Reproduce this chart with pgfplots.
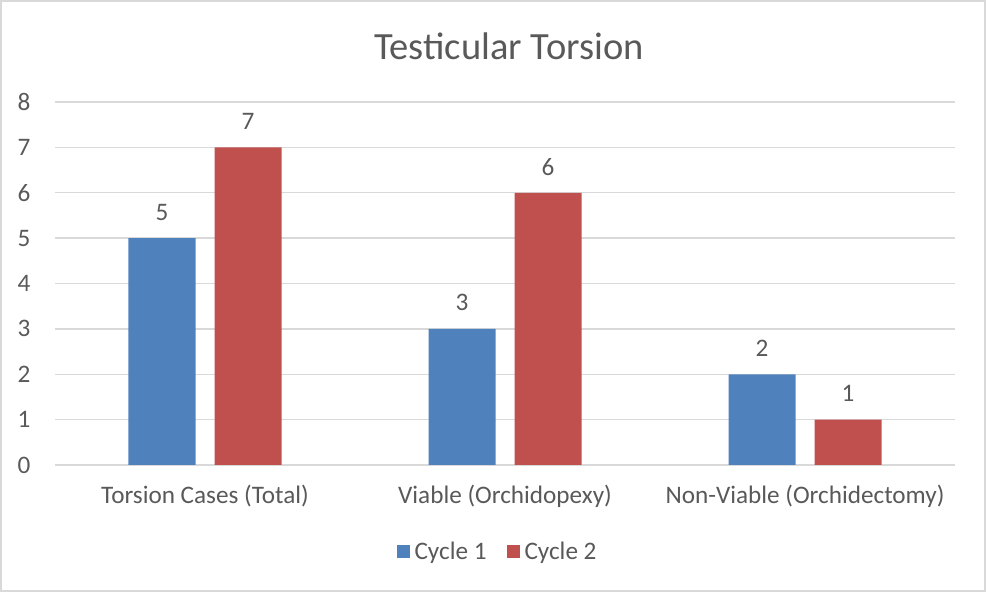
\documentclass[border=0pt]{standalone}
\usepackage{pgfplots}
\pgfplotsset{compat=1.18}
\usepackage{fontspec}
\setmainfont{Carlito}
\definecolor{c1}{HTML}{4F81BD}
\definecolor{c2}{HTML}{C0504D}
\definecolor{txt}{HTML}{595959}
\definecolor{gridc}{HTML}{D9D9D9}
\begin{document}
\begin{tikzpicture}[x=1pt,y=1pt]
\draw[gridc, line width=2pt] (1,1) rectangle (985,591);
\node[text=txt, font=\fontsize{38.5}{46}\selectfont, anchor=center] at (509,546) {Testicular Torsion};
\begin{axis}[
  at={(55pt,127pt)}, anchor=south west,
  scale only axis, width=900pt, height=363pt,
  xmin=-0.5, xmax=2.5, ymin=0, ymax=8,
  ybar=19pt, bar width=67pt,
  xtick={0,1,2},
  xticklabels={Torsion Cases (Total), Viable (Orchidopexy), Non-Viable (Orchidectomy)},
  ytick={0,1,...,8},
  axis line style={draw=none},
  ymajorgrids, grid style={gridc, line width=1.3pt},
  major tick length=0pt,
  /pgf/number format/assume math mode=true,
  tick label style={font=\fontsize{25.2}{30}\selectfont, text=txt},
  yticklabel style={xshift=-21pt},
  xticklabel style={anchor=center, yshift=-31pt},
  nodes near coords,
  nodes near coords style={font=\fontsize{25.2}{30}\selectfont, text=txt, anchor=center, yshift=26pt},
  legend image code/.code={\fill[#1] (0pt,-6.5pt) rectangle (13pt,6.5pt); \path (16pt,0pt);},
  legend style={at={(0.4917,-0.237)}, anchor=center, draw=none, fill=none,
    legend columns=2, font=\fontsize{25.2}{30}\selectfont, text=txt,
    /tikz/every even column/.append style={column sep=18pt}},
]
\addplot[fill=c1, draw=none] coordinates {(0,5) (1,3) (2,2)};
\addplot[fill=c2, draw=none] coordinates {(0,7) (1,6) (2,1)};
\legend{Cycle 1, Cycle 2}
\end{axis}
\end{tikzpicture}
\end{document}
